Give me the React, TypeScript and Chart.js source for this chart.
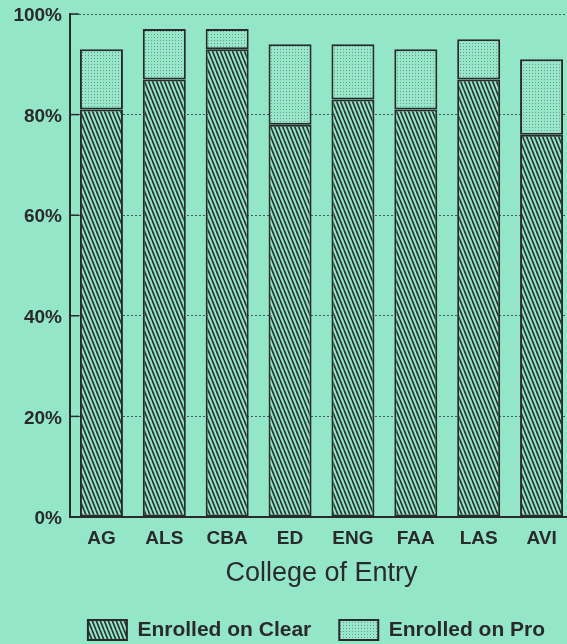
import { useEffect, useRef } from "react"
import { Chart, registerables } from "chart.js"

Chart.register(...registerables)

// values (percent of entering students)
const colleges = ["AG", "ALS", "CBA", "ED", "ENG", "FAA", "LAS", "AVI"]
const enrolledClear = [81, 87, 93, 78, 83, 81, 87, 76]
const enrolledPro = [12, 10, 4, 16, 11, 12, 8, 15]
const yTicks = [0, 20, 40, 60, 80, 100]

const BG = "#94e6c9"
const INK = "#2a2a2a"
const FONT = "'Liberation Sans', Arial, sans-serif"

function hatchPattern(ctx: CanvasRenderingContext2D) {
  const c = document.createElement("canvas")
  c.width = 4
  c.height = 10
  const g = c.getContext("2d")!
  g.fillStyle = BG
  g.fillRect(0, 0, 4, 10)
  g.strokeStyle = "#283430"
  g.lineWidth = 1.7
  g.beginPath()
  for (const k of [-1, 0, 1]) {
    g.moveTo(4 * k, 0)
    g.lineTo(4 * k + 4, 10)
  }
  g.stroke()
  return ctx.createPattern(c, "repeat")!
}

function dotPattern(ctx: CanvasRenderingContext2D) {
  const c = document.createElement("canvas")
  c.width = 3
  c.height = 3
  const g = c.getContext("2d")!
  g.fillStyle = "#98e7cb"
  g.fillRect(0, 0, 3, 3)
  g.fillStyle = "rgba(55, 85, 75, 0.5)"
  g.fillRect(1, 1, 1, 1)
  return ctx.createPattern(c, "repeat")!
}

// short solid tick marks pointing into the plot, like the original
const inwardTicks = {
  id: "inwardTicks",
  afterDatasetsDraw(chart: Chart) {
    const y = chart.scales.y
    const { ctx, chartArea } = chart
    ctx.save()
    ctx.strokeStyle = INK
    ctx.lineWidth = 1.5
    y.ticks.forEach((t) => {
      if (t.value === 0) return
      const py = y.getPixelForValue(t.value)
      ctx.beginPath()
      ctx.moveTo(chartArea.left, py)
      ctx.lineTo(chartArea.left + 9, py)
      ctx.stroke()
    })
    ctx.restore()
  },
}

// the legend in the scan sits a bit right of the canvas centre
const legendShift = {
  id: "legendShift",
  afterLayout(chart: Chart) {
    const l = chart.legend
    if (l) {
      l.left += 30
      l.right += 30
    }
  },
}

function EnrollmentChart() {
  const chartRef = useRef<HTMLCanvasElement>(null)
  const chartInstance = useRef<Chart | null>(null)

  useEffect(() => {
    if (!chartRef.current) return
    if (chartInstance.current) chartInstance.current.destroy()
    const ctx = chartRef.current.getContext("2d")
    if (!ctx) return

    Chart.defaults.font.family = FONT

    chartInstance.current = new Chart(ctx, {
      type: "bar",
      data: {
        labels: colleges,
        datasets: [
          {
            label: "Enrolled on Clear",
            data: enrolledClear,
            backgroundColor: hatchPattern(ctx),
            borderColor: INK,
            borderWidth: 2,
            borderSkipped: false,
            categoryPercentage: 1,
            barPercentage: 0.684,
          },
          {
            label: "Enrolled on Pro",
            data: enrolledPro,
            backgroundColor: dotPattern(ctx),
            borderColor: INK,
            borderWidth: 2,
            borderSkipped: false,
            categoryPercentage: 1,
            barPercentage: 0.684,
          },
        ],
      },
      options: {
        responsive: false,
        animation: false,
        layout: { padding: { top: 14, right: 2, bottom: -6.5, left: 0 } },
        scales: {
          x: {
            stacked: true,
            grid: { display: false, drawTicks: false },
            border: { display: true, color: INK, width: 2 },
            ticks: {
              color: INK,
              padding: 10,
              font: { size: 19, weight: "bold" },
            },
            title: {
              display: true,
              text: "College of Entry",
              color: INK,
              font: { size: 27, weight: "normal" },
              padding: { top: -2, bottom: 1.3 },
            },
          },
          y: {
            stacked: true,
            min: 0,
            max: 100,
            afterBuildTicks: (axis) => {
              axis.ticks = yTicks.map((v) => ({ value: v }))
            },
            afterFit: (scale) => {
              scale.width = 70
              scale.paddingTop = 0
              scale.paddingBottom = 0
            },
            grid: { color: "rgba(40, 40, 40, 0.75)", lineWidth: 1, drawTicks: false },
            border: { display: true, color: INK, width: 2, dash: [2, 2] },
            ticks: {
              color: INK,
              padding: 8,
              labelOffset: 2,
              font: { size: 19, weight: "bold" },
              callback: (v) => `${v}%`,
            },
          },
        },
        plugins: {
          legend: {
            position: "bottom",
            labels: {
              color: INK,
              boxWidth: 39,
              boxHeight: 20,
              padding: 28,
              font: { size: 21, weight: "bold" },
            },
          },
          tooltip: { enabled: false },
        },
      },
      plugins: [inwardTicks, legendShift],
    })

    return () => {
      if (chartInstance.current) {
        chartInstance.current.destroy()
        chartInstance.current = null
      }
    }
  }, [])

  return <canvas ref={chartRef} width={575} height={644} style={{ display: "block" }} />
}

export default function App() {
  return (
    <div
      style={{
        position: "fixed",
        left: 0,
        top: 0,
        width: 567,
        height: 644,
        overflow: "hidden",
        background: BG,
      }}
    >
      <EnrollmentChart />
    </div>
  )
}
